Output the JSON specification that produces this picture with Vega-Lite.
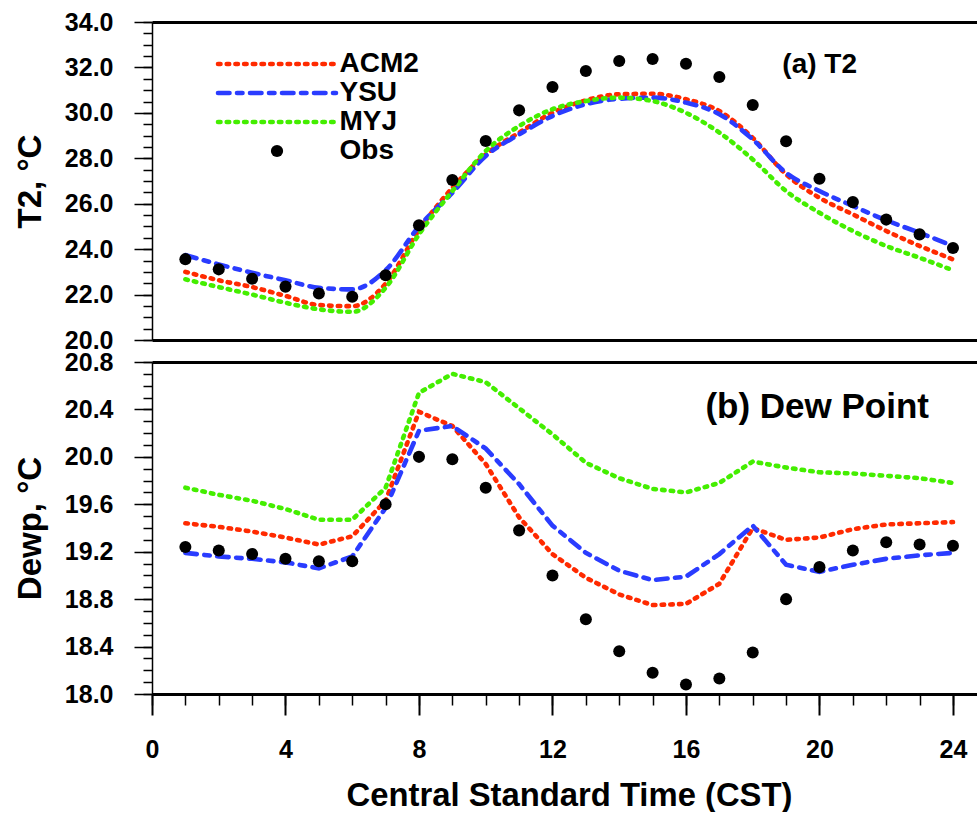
{
  "$schema": "https://vega.github.io/schema/vega-lite/v6.json",
  "background": "white",
  "padding": {"left": 14, "top": 10, "right": 0, "bottom": 0},
  "config": {
    "view": {"stroke": null},
    "font": "Liberation Sans",
    "axis": {"grid": false, "labelFont": "Liberation Sans", "labelFontWeight": "bold", "labelFontSize": 25, "labelColor": "black", "titleFont": "Liberation Sans", "titleFontWeight": "bold", "titleColor": "black", "tickColor": "black", "domainColor": "black", "tickWidth": 1.5, "labelFlush": false}
  },
  "datasets": {
    "t2": [
      {"hour": 1, "ACM2": 23.00, "YSU": 23.74, "MYJ": 22.67, "Obs": 23.56},
      {"hour": 2, "ACM2": 22.63, "YSU": 23.33, "MYJ": 22.33, "Obs": 23.11},
      {"hour": 3, "ACM2": 22.33, "YSU": 22.96, "MYJ": 22.00, "Obs": 22.70},
      {"hour": 4, "ACM2": 21.94, "YSU": 22.63, "MYJ": 21.64, "Obs": 22.35},
      {"hour": 5, "ACM2": 21.54, "YSU": 22.30, "MYJ": 21.35, "Obs": 22.05},
      {"hour": 6, "ACM2": 21.49, "YSU": 22.23, "MYJ": 21.24, "Obs": 21.90},
      {"hour": 7, "ACM2": 22.48, "YSU": 23.07, "MYJ": 22.30, "Obs": 22.85},
      {"hour": 8, "ACM2": 24.85, "YSU": 25.00, "MYJ": 24.65, "Obs": 25.05},
      {"hour": 9, "ACM2": 26.70, "YSU": 26.48, "MYJ": 26.56, "Obs": 27.04},
      {"hour": 10, "ACM2": 28.17, "YSU": 28.10, "MYJ": 28.32, "Obs": 28.76},
      {"hour": 11, "ACM2": 29.13, "YSU": 29.05, "MYJ": 29.42, "Obs": 30.11},
      {"hour": 12, "ACM2": 30.00, "YSU": 29.86, "MYJ": 30.16, "Obs": 31.14},
      {"hour": 13, "ACM2": 30.55, "YSU": 30.38, "MYJ": 30.52, "Obs": 31.84},
      {"hour": 14, "ACM2": 30.82, "YSU": 30.62, "MYJ": 30.67, "Obs": 32.28},
      {"hour": 15, "ACM2": 30.84, "YSU": 30.67, "MYJ": 30.52, "Obs": 32.37},
      {"hour": 16, "ACM2": 30.60, "YSU": 30.45, "MYJ": 30.00, "Obs": 32.16},
      {"hour": 17, "ACM2": 30.08, "YSU": 29.94, "MYJ": 29.13, "Obs": 31.58},
      {"hour": 18, "ACM2": 28.90, "YSU": 28.83, "MYJ": 27.95, "Obs": 30.35},
      {"hour": 19, "ACM2": 27.29, "YSU": 27.36, "MYJ": 26.56, "Obs": 28.75},
      {"hour": 20, "ACM2": 26.26, "YSU": 26.56, "MYJ": 25.60, "Obs": 27.10},
      {"hour": 21, "ACM2": 25.53, "YSU": 25.90, "MYJ": 24.80, "Obs": 26.07},
      {"hour": 22, "ACM2": 24.80, "YSU": 25.27, "MYJ": 24.14, "Obs": 25.30},
      {"hour": 23, "ACM2": 24.14, "YSU": 24.72, "MYJ": 23.62, "Obs": 24.65},
      {"hour": 24, "ACM2": 23.55, "YSU": 24.14, "MYJ": 23.07, "Obs": 24.05}
    ],
    "dew": [
      {"hour": 1, "ACM2": 19.44, "YSU": 19.19, "MYJ": 19.74, "Obs": 19.24},
      {"hour": 2, "ACM2": 19.41, "YSU": 19.16, "MYJ": 19.68, "Obs": 19.21},
      {"hour": 3, "ACM2": 19.37, "YSU": 19.14, "MYJ": 19.63, "Obs": 19.18},
      {"hour": 4, "ACM2": 19.32, "YSU": 19.11, "MYJ": 19.56, "Obs": 19.14},
      {"hour": 5, "ACM2": 19.26, "YSU": 19.06, "MYJ": 19.47, "Obs": 19.12},
      {"hour": 6, "ACM2": 19.33, "YSU": 19.16, "MYJ": 19.47, "Obs": 19.12},
      {"hour": 7, "ACM2": 19.63, "YSU": 19.57, "MYJ": 19.74, "Obs": 19.60},
      {"hour": 8, "ACM2": 20.38, "YSU": 20.22, "MYJ": 20.54, "Obs": 20.00},
      {"hour": 9, "ACM2": 20.26, "YSU": 20.26, "MYJ": 20.70, "Obs": 19.98},
      {"hour": 10, "ACM2": 19.94, "YSU": 20.07, "MYJ": 20.63, "Obs": 19.74},
      {"hour": 11, "ACM2": 19.49, "YSU": 19.77, "MYJ": 20.41, "Obs": 19.38},
      {"hour": 12, "ACM2": 19.18, "YSU": 19.42, "MYJ": 20.19, "Obs": 19.00},
      {"hour": 13, "ACM2": 18.98, "YSU": 19.19, "MYJ": 19.95, "Obs": 18.63},
      {"hour": 14, "ACM2": 18.84, "YSU": 19.04, "MYJ": 19.82, "Obs": 18.36},
      {"hour": 15, "ACM2": 18.75, "YSU": 18.96, "MYJ": 19.73, "Obs": 18.18},
      {"hour": 16, "ACM2": 18.76, "YSU": 18.99, "MYJ": 19.70, "Obs": 18.08},
      {"hour": 17, "ACM2": 18.93, "YSU": 19.18, "MYJ": 19.78, "Obs": 18.13},
      {"hour": 18, "ACM2": 19.40, "YSU": 19.42, "MYJ": 19.96, "Obs": 18.35},
      {"hour": 19, "ACM2": 19.30, "YSU": 19.09, "MYJ": 19.91, "Obs": 18.80},
      {"hour": 20, "ACM2": 19.32, "YSU": 19.03, "MYJ": 19.87, "Obs": 19.07},
      {"hour": 21, "ACM2": 19.39, "YSU": 19.09, "MYJ": 19.86, "Obs": 19.21},
      {"hour": 22, "ACM2": 19.43, "YSU": 19.14, "MYJ": 19.84, "Obs": 19.28},
      {"hour": 23, "ACM2": 19.44, "YSU": 19.17, "MYJ": 19.82, "Obs": 19.26},
      {"hour": 24, "ACM2": 19.45, "YSU": 19.19, "MYJ": 19.78, "Obs": 19.25}
    ]
  },
  "spacing": 22,
  "bounds": "flush",
  "resolve": {"scale": {"color": "independent"}, "legend": {"color": "independent"}},
  "vconcat": [
    {
      "width": 826,
      "height": 318,
      "data": {"name": "t2"},
      "title": {"text": "(a) T2", "orient": "top", "anchor": "end", "frame": "group", "baseline": "alphabetic", "offset": -91, "dx": -121, "fontSize": 28, "font": "Liberation Sans", "fontWeight": "bold", "color": "black"},
      "resolve": {"axis": {"x": "independent", "y": "independent"}},
      "layer": [
        {
          "mark": {"type": "line", "strokeWidth": 4.6, "strokeCap": "round", "strokeDash": [2.5, 6.2], "interpolate": "monotone"},
          "encoding": {
            "x": {"field": "hour", "type": "quantitative", "scale": {"domain": [0, 24.75], "nice": false}, "axis": {"orient": "bottom", "ticks": false, "labels": false, "title": null, "domainWidth": 3}},
            "y": {"field": "ACM2", "type": "quantitative", "scale": {"domain": [20, 34], "nice": false, "zero": false}, "axis": {"orient": "left", "values": [20, 22, 24, 26, 28, 30, 32, 34], "format": ".1f", "tickSize": 18, "labelPadding": 21, "domainWidth": 1.5, "title": "T2, °C", "titleFontSize": 33, "titlePadding": 17}},
            "color": {
              "datum": "ACM2", "type": "nominal",
              "scale": {"domain": ["ACM2", "YSU", "MYJ", "Obs"], "range": ["#ff2a00", "#2a3cff", "#44ee00", "black"]},
              "legend": {
                "orient": "none", "legendX": 63.5, "legendY": 28, "title": null, "padding": 0,
                "symbolOffset": 0, "labelOffset": 1, "symbolSize": 13924, "symbolStrokeWidth": 4.6,
                "labelFontSize": 28, "labelFont": "Liberation Sans", "labelFontWeight": "bold", "labelColor": "black",
                "rowPadding": 1, "labelLimit": 400,
                "encode": {
                  "symbols": {
                    "update": {
                      "x": {"value": 61.5},
                      "shape": {"signal": "datum.value === 'Obs' ? 'circle' : 'stroke'"},
                      "size": {"signal": "datum.value === 'Obs' ? 150 : 13924"},
                      "stroke": {"signal": "datum.value === 'ACM2' ? '#ff2a00' : datum.value === 'YSU' ? '#2a3cff' : datum.value === 'MYJ' ? '#44ee00' : 'black'"},
                      "fill": {"signal": "datum.value === 'Obs' ? 'black' : 'transparent'"},
                      "strokeWidth": {"signal": "datum.value === 'Obs' ? 0 : 4.6"},
                      "strokeDash": {"signal": "datum.value === 'YSU' ? [11.5, 7.5, 5.5, 7.5] : [2.5, 6.2]"},
                      "strokeCap": {"value": "round"},
                      "opacity": {"value": 1}
                    }
                  },
                  "labels": {
                    "update": {
                      "x": {"value": 124},
                      "fontSize": {"value": 28},
                      "fontWeight": {"value": "bold"},
                      "font": {"value": "Liberation Sans"},
                      "fill": {"value": "black"}
                    }
                  }
                }
              }
            }
          }
        },
        {
          "mark": {"type": "line", "strokeWidth": 4.6, "strokeCap": "round", "strokeDash": [11.5, 7.5, 5.5, 7.5], "interpolate": "monotone"},
          "encoding": {
            "x": {"field": "hour", "type": "quantitative", "scale": {"domain": [0, 24.75], "nice": false}, "axis": {"orient": "top", "ticks": false, "labels": false, "title": null, "domainWidth": 3}},
            "y": {"field": "YSU", "type": "quantitative", "scale": {"domain": [20, 34], "nice": false, "zero": false}, "axis": {"orient": "left", "values": [20, 20.5, 21, 21.5, 22, 22.5, 23, 23.5, 24, 24.5, 25, 25.5, 26, 26.5, 27, 27.5, 28, 28.5, 29, 29.5, 30, 30.5, 31, 31.5, 32, 32.5, 33, 33.5, 34], "tickSize": 9, "labels": false, "domain": false, "title": null}},
            "color": {"datum": "YSU", "type": "nominal"}
          }
        },
        {
          "mark": {"type": "line", "strokeWidth": 4.6, "strokeCap": "round", "strokeDash": [2.5, 6.2], "interpolate": "monotone"},
          "encoding": {
            "x": {"field": "hour", "type": "quantitative", "scale": {"domain": [0, 24.75], "nice": false}, "axis": null},
            "y": {"field": "MYJ", "type": "quantitative", "scale": {"domain": [20, 34], "nice": false, "zero": false}, "axis": null},
            "color": {"datum": "MYJ", "type": "nominal"}
          }
        },
        {
          "mark": {"type": "point", "filled": true, "size": 145, "opacity": 1},
          "encoding": {
            "x": {"field": "hour", "type": "quantitative", "scale": {"domain": [0, 24.75], "nice": false}, "axis": null},
            "y": {"field": "Obs", "type": "quantitative", "scale": {"domain": [20, 34], "nice": false, "zero": false}, "axis": null},
            "color": {"datum": "Obs", "type": "nominal"}
          }
        }
      ]
    },
    {
      "width": 826,
      "height": 332,
      "data": {"name": "dew"},
      "title": {"text": "(b) Dew Point", "orient": "top", "anchor": "end", "frame": "group", "baseline": "alphabetic", "offset": -103, "dx": -49, "fontSize": 35, "font": "Liberation Sans", "fontWeight": "bold", "color": "black"},
      "resolve": {"axis": {"x": "independent", "y": "independent"}},
      "layer": [
        {
          "mark": {"type": "line", "color": "#ff2a00", "strokeWidth": 4.6, "strokeCap": "round", "strokeDash": [2.5, 6.2]},
          "encoding": {
            "x": {"field": "hour", "type": "quantitative", "scale": {"domain": [0, 24.75], "nice": false}, "axis": {"orient": "bottom", "values": [0, 4, 8, 12, 16, 20, 24], "tickSize": 21, "tickWidth": 2, "labelPadding": 22, "domainWidth": 3, "title": "Central Standard Time (CST)", "titleFontSize": 32.8, "titlePadding": 17, "titleX": 417}},
            "y": {"field": "ACM2", "type": "quantitative", "scale": {"domain": [18, 20.8], "nice": false, "zero": false}, "axis": {"orient": "left", "values": [18, 18.4, 18.8, 19.2, 19.6, 20, 20.4, 20.8], "format": ".1f", "tickSize": 18, "labelPadding": 21, "domainWidth": 1.5, "title": "Dewp, °C", "titleFontSize": 33, "titlePadding": 17}}
          }
        },
        {
          "mark": {"type": "line", "color": "#2a3cff", "strokeWidth": 4.6, "strokeCap": "round", "strokeDash": [11.5, 7.5, 5.5, 7.5]},
          "encoding": {
            "x": {"field": "hour", "type": "quantitative", "scale": {"domain": [0, 24.75], "nice": false}, "axis": {"orient": "bottom", "values": [0, 1, 2, 3, 4, 5, 6, 7, 8, 9, 10, 11, 12, 13, 14, 15, 16, 17, 18, 19, 20, 21, 22, 23, 24], "tickSize": 11, "labels": false, "domain": false, "title": null}},
            "y": {"field": "YSU", "type": "quantitative", "scale": {"domain": [18, 20.8], "nice": false, "zero": false}, "axis": {"orient": "left", "values": [18, 18.1, 18.2, 18.3, 18.4, 18.5, 18.6, 18.7, 18.8, 18.9, 19, 19.1, 19.2, 19.3, 19.4, 19.5, 19.6, 19.7, 19.8, 19.9, 20, 20.1, 20.2, 20.3, 20.4, 20.5, 20.6, 20.7, 20.8], "tickSize": 9, "labels": false, "domain": false, "title": null}}
          }
        },
        {
          "mark": {"type": "line", "color": "#44ee00", "strokeWidth": 4.6, "strokeCap": "round", "strokeDash": [2.5, 6.2]},
          "encoding": {
            "x": {"field": "hour", "type": "quantitative", "scale": {"domain": [0, 24.75], "nice": false}, "axis": {"orient": "top", "ticks": false, "labels": false, "title": null, "domainWidth": 3}},
            "y": {"field": "MYJ", "type": "quantitative", "scale": {"domain": [18, 20.8], "nice": false, "zero": false}, "axis": null}
          }
        },
        {
          "mark": {"type": "point", "filled": true, "size": 145, "opacity": 1, "color": "black"},
          "encoding": {
            "x": {"field": "hour", "type": "quantitative", "scale": {"domain": [0, 24.75], "nice": false}, "axis": null},
            "y": {"field": "Obs", "type": "quantitative", "scale": {"domain": [18, 20.8], "nice": false, "zero": false}, "axis": null}
          }
        }
      ]
    }
  ]
}
